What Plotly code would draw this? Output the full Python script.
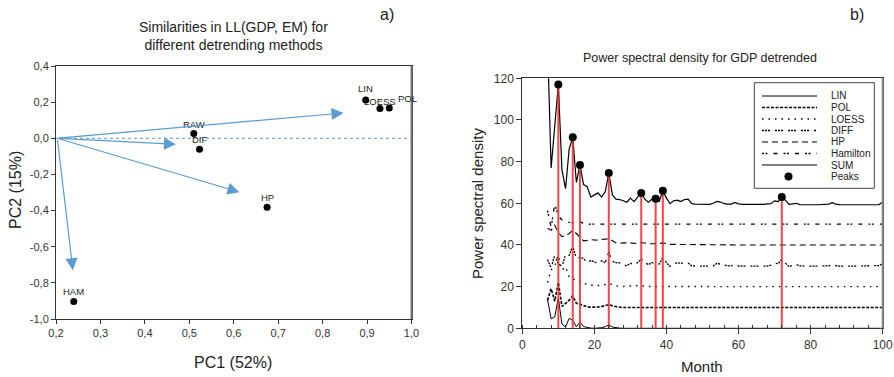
import plotly.graph_objects as go

W, H = 894, 377
FONT = "Liberation Sans, Arial, sans-serif"

# ---------------- Panel a) data ----------------
methods = ["LIN", "LOESS", "POL", "RAW", "DIF", "HP", "HAM"]
pc1 = [0.897, 0.929, 0.950, 0.510, 0.523, 0.675, 0.240]
pc2 = [0.212, 0.165, 0.168, 0.026, -0.061, -0.382, -0.903]

arrow_origin = (0.203, 0.0)
load_x = [0.847, 0.470, 0.613, 0.238]
load_y = [0.140, -0.033, -0.298, -0.730]

pc1_ticks = [0.2, 0.3, 0.4, 0.5, 0.6, 0.7, 0.8, 0.9, 1.0]
pc2_ticks = [-1.0, -0.8, -0.6, -0.4, -0.2, 0.0, 0.2, 0.4]

# ---------------- Panel b) data ----------------
sum_months = list(range(7, 101))
sum_vals = [138, 77, 97, 117, 76, 67, 86, 91.7, 70, 78.4,
            69, 68, 63, 64, 65, 63, 65.5, 74.5, 64, 62,
            61.8, 61.2, 60.5, 62.5, 60.8, 63, 65, 62, 60.5, 62,
            62.2, 61, 66, 62.5, 59.8, 61.2, 61.5, 60.8, 61.8, 62,
            59.8, 59.6, 59.5, 59.4, 59.4, 59.5, 60, 60.9, 60.6, 59.8,
            59.6, 59.6, 60.4, 59.7, 59.5, 59.4, 59.4, 59.5, 59.5, 59.4,
            59.5, 59.7, 59.8, 61.2, 60.8, 63, 61.5, 59.5, 59.8, 60,
            59.4, 59.3, 59.3, 59.4, 59.3, 59.3, 59.3, 59.4, 59.6, 60.3,
            59.6, 59.4, 59.3, 59.2, 59.2, 59.3, 59.3, 59.2, 59.4, 59.3,
            59.3, 59.5, 59.4, 60.6]

diff_months = list(range(7, 101))
diff_vals = [33, 29, 35, 31, 29.5, 35.5, 35, 39.5, 33.5, 34,
             33.5, 31.5, 32.5, 31.8, 31.2, 32.4, 31.5, 36.5, 32.2, 31.5,
             31.4, 30.5, 30, 31.2, 30.6, 31.5, 33.2, 31.5, 30.6, 31.5,
             31, 30.8, 34, 31.5, 29.7, 31, 31.5, 31.2, 31.5, 31.3,
             30, 29.8, 29.8, 29.8, 29.8, 29.8, 29.9, 31.2, 30.8, 30.2,
             30, 30, 30.4, 29.9, 29.8, 29.8, 29.8, 29.8, 29.8, 29.8,
             29.8, 29.8, 30.3, 31.3, 31, 33, 31.3, 29.6, 30.3, 30.6,
             30, 29.8, 29.8, 29.8, 29.8, 29.8, 29.8, 29.8, 30, 30.4,
             30, 29.8, 29.8, 29.8, 29.8, 29.8, 29.8, 29.8, 29.8, 29.8,
             29.8, 29.8, 30.1, 31]

lin_months = list(range(7, 29)) + [40, 60, 80, 100]
lin_vals = [14, 4.5, 5.5, 14.5, 2, 0.6, 4.8, 3.8, 0.7, 3, 0.8,
            0.3, 0.1, 0, 0, 0.3, 0.7, 1.7, 0.6, 0.2, 0.1, 0,
            0, 0, 0, 0]

pol_months = list(range(7, 29)) + [60, 100]
pol_vals = [13.5, 19, 13, 22, 10.5, 12, 13.5, 15.5, 12, 11.5, 10.8,
            10.3, 10.1, 10, 10.2, 10.5, 11, 11.3, 10.8, 10.3, 10.1, 10,
            10, 10]

loess_months = list(range(7, 29)) + [33, 34, 60, 100]
loess_vals = [22, 28, 30, 35, 28, 29.5, 24.5, 24, 22.5, 22.5, 21.5,
              21, 20.8, 20.5, 20.5, 20.6, 21, 21.5, 21, 20.4, 20.2, 20.1,
              20.6, 20.1, 20, 20]

hp_months = list(range(7, 29)) + [30, 32, 33, 35, 38, 39, 41, 60, 100]
hp_vals = [48, 47, 49.5, 46, 44, 44.5, 45.5, 47, 45.5, 43.5, 42,
           42.2, 42.5, 42.4, 42.3, 42.6, 42.8, 43, 42, 41, 40.8, 41,
           41, 40.6, 41.2, 40.6, 40.6, 41, 40.3, 40, 40]

ham_months = list(range(7, 21)) + [40, 60, 100]
ham_vals = [56.5, 48.5, 59.5, 54, 52, 51.2, 50.8, 50.6, 50.8, 51.3, 50.2,
            49.9, 50, 50, 50, 50, 50]

peak_months = [10, 14, 16, 24, 33, 37, 39, 72]
peak_vals = [117, 91.7, 78.4, 74.5, 65, 62.2, 66, 63]

series = [
    ("LIN", lin_months, lin_vals, "solid", 1.0),
    ("POL", pol_months, pol_vals, "3px,1.5px", 1.6),
    ("LOESS", loess_months, loess_vals, "1.5px,5px", 1.4),
    ("DIFF", diff_months, diff_vals, "2px,1px,2px,1px,2px,5px", 1.3),
    ("HP", hp_months, hp_vals, "6px,4px", 1.1),
    ("Hamilton", ham_months, ham_vals, "2px,1.5px,2px,6px,4px,6px", 1.3),
    ("SUM", sum_months, sum_vals, "solid", 1.2),
]

fig = go.Figure()

# ---- panel a ----
fig.add_trace(go.Scatter(
    x=pc1, y=pc2, mode="markers",
    marker=dict(color="black", size=7), xaxis="x", yaxis="y",
    showlegend=False, cliponaxis=False))

# ---- panel b ----
for name, mx, vy, dash, lw in series:
    fig.add_trace(go.Scatter(
        x=mx, y=vy, mode="lines", name=name, xaxis="x2", yaxis="y2",
        line=dict(color="black", width=lw, dash=dash), showlegend=False))

fig.add_trace(go.Scatter(
    x=peak_months, y=peak_vals, mode="markers", name="Peaks",
    xaxis="x2", yaxis="y2", showlegend=False,
    marker=dict(color="black", size=8),
    error_y=dict(type="data", symmetric=False, array=[0] * len(peak_vals),
                 arrayminus=peak_vals, color="rgba(240,40,40,0.85)",
                 thickness=2, width=0)))


def px(x):
    return x / W


def py(y):
    return 1 - y / H


def fmt(v):
    return f"{v:.1f}".replace(".", ",")


annotations = []
shapes = []

# point labels (offsets in px to mimic the reference placement)
label_shift = {"LIN": (0, 4), "LOESS": (0, -1), "POL": (7, 2)}
for name, xv, yv in zip(methods, pc1, pc2):
    dx, dy = label_shift.get(name, (0, 2))
    annotations.append(dict(x=xv, y=yv, xref="x", yref="y", text=name, showarrow=False,
                            xanchor="left" if name == "POL" else "center",
                            yanchor="bottom", xshift=dx, yshift=dy,
                            font=dict(family=FONT, size=9.5, color="#222")))

# arrows
for lx, ly in zip(load_x, load_y):
    annotations.append(dict(
        x=lx, y=ly, ax=arrow_origin[0], ay=arrow_origin[1],
        xref="x", yref="y", axref="x", ayref="y", text="",
        showarrow=True, arrowhead=2, arrowsize=2.0, arrowwidth=1.2,
        arrowcolor="#5b9bd5"))

# dotted zero line
shapes.append(dict(type="line", xref="x domain", yref="y", x0=0, x1=1, y0=0, y1=0,
                   line=dict(color="#5b9bd5", width=1, dash="dot")))

# right borders in gray
shapes.append(dict(type="line", xref="paper", yref="paper", x0=px(411.5), x1=px(411.5),
                   y0=py(319), y1=py(66), line=dict(color="#777", width=2)))
shapes.append(dict(type="line", xref="paper", yref="paper", x0=px(882.7), x1=px(882.7),
                   y0=py(328.3), y1=py(78.3), line=dict(color="#888", width=2)))


def txt(s, x, y, size, xanchor="center", yanchor="middle", angle=0):
    annotations.append(dict(text=s, x=px(x), y=py(y), xref="paper", yref="paper",
                            showarrow=False, xanchor=xanchor, yanchor=yanchor,
                            textangle=angle,
                            font=dict(family=FONT, size=size, color="#222")))


txt("Similarities in LL(GDP, EM) for<br>different detrending methods", 233, 36, 14)
txt("a)", 387, 15, 16)
txt("b)", 857, 15, 16)
txt("PC1 (52%)", 233, 362, 16)
txt("PC2 (15%)", 15, 190, 16, angle=-90)
txt("Power spectral density for GDP detrended", 700, 58, 12.5)
txt("Power spectral density", 477, 203, 15, angle=-90)
txt("Month", 702, 366, 15)

# manual legend
shapes.append(dict(type="rect", xref="paper", yref="paper",
                   x0=px(754.3), x1=px(874.3), y0=py(188.3), y1=py(82.7),
                   line=dict(color="#444", width=1), fillcolor="white"))
item_y0, item_dy = 96, 11.5
for i, (name, _, _, dash, lw) in enumerate(series):
    yy = item_y0 + i * item_dy
    shapes.append(dict(type="line", xref="paper", yref="paper",
                       x0=px(762), x1=px(817), y0=py(yy), y1=py(yy),
                       line=dict(color="black", width=lw, dash=dash)))
    txt(name, 829, yy, 10, xanchor="left")
yy = item_y0 + 7 * item_dy
shapes.append(dict(type="circle", xref="paper", yref="paper",
                   x0=px(784.5), x1=px(792.5), y0=py(yy + 4), y1=py(yy - 4),
                   fillcolor="black", line=dict(color="black", width=0)))
txt("Peaks", 829, yy, 10, xanchor="left")

axis_common = dict(showgrid=False, zeroline=False, showline=True, linecolor="#333",
                   linewidth=1, ticks="outside", tickcolor="#333", automargin=False,
                   tickfont=dict(family=FONT, color="#333"))

fig.update_layout(
    width=W, height=H, margin=dict(l=0, r=0, t=0, b=0, autoexpand=False),
    paper_bgcolor="white", plot_bgcolor="white", showlegend=False,
    xaxis=dict(**axis_common, domain=[px(56), px(411.5)], range=[0.2, 1.0],
               tickvals=pc1_ticks, ticktext=[fmt(v) for v in pc1_ticks],
               ticklen=4, mirror=True, anchor="y"),
    yaxis=dict(**axis_common, domain=[py(319), py(66)], range=[-1.0, 0.4],
               tickvals=pc2_ticks, ticktext=[fmt(v) for v in pc2_ticks],
               ticklen=4, mirror=True, anchor="x"),
    xaxis2=dict(**axis_common, domain=[px(522.3), px(882.7)], range=[0, 100],
                dtick=20, ticklen=5, mirror=True, anchor="y2",
                minor=dict(dtick=4, ticks="inside", ticklen=3, tickcolor="#333")),
    yaxis2=dict(**axis_common, domain=[py(328.3), py(78.3)], range=[0, 120],
                dtick=20, ticklen=5, mirror=True, anchor="x2"),
    annotations=annotations, shapes=shapes,
)
fig.update_xaxes(tickfont_size=11, selector=dict(anchor="y"))
fig.update_yaxes(tickfont_size=11, selector=dict(anchor="x"))
fig.update_xaxes(tickfont_size=12, selector=dict(anchor="y2"))
fig.update_yaxes(tickfont_size=12, selector=dict(anchor="x2"))

fig.write_html("out.html", config={"displayModeBar": False},
               post_script="document.body.style.margin='0px';")
